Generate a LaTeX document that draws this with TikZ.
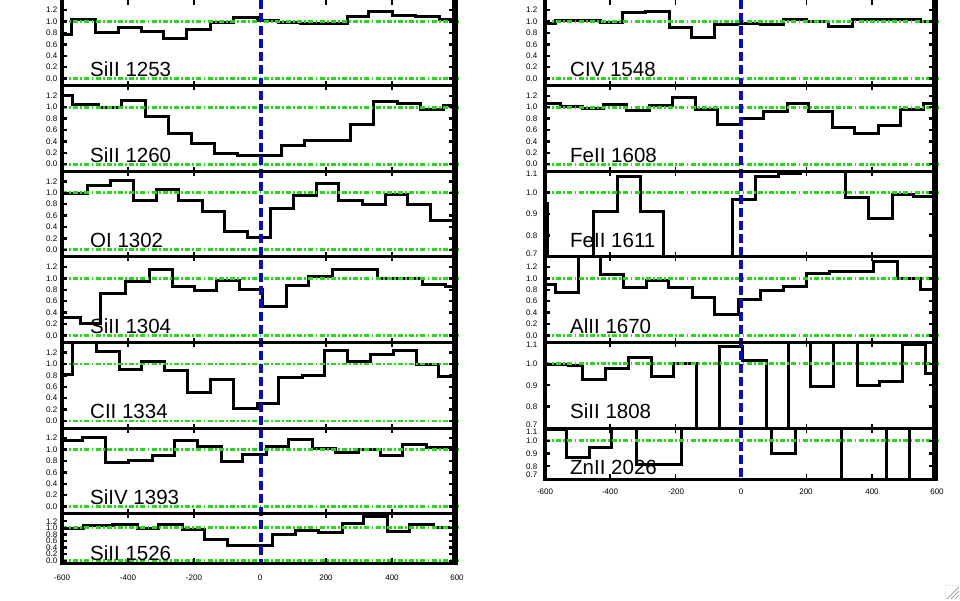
\documentclass[tikz,border=0pt]{standalone}
\usepackage{fontspec}
\setmainfont{Liberation Sans}
\definecolor{refgreen}{RGB}{40,215,30}
\definecolor{zeroblue}{RGB}{10,10,195}
\tikzset{
  spec/.style={line width=3pt, line join=miter, black},
  panel/.style 2 args={shift={(0,#1)}, yscale=-#2},
  frameL/.style={line width=3.6pt, black},
  frameR/.style={line width=6pt, black},
  sepline/.style={line width=3pt, black},
  refline/.style={line width=2.8pt, refgreen, dash pattern=on 5pt off 2.2pt on 1.8pt off 2.2pt},
  zeroline/.style={line width=3.3pt, zeroblue, dash pattern=on 8.5pt off 4.5pt},
  ytk/.style={line width=2.4pt, black},
  xtk/.style={line width=1.8pt, black},
  ylab/.style={font=\fontsize{8}{9}\selectfont, anchor=east, inner sep=0pt},
  xlab/.style={font=\fontsize{8}{9}\selectfont, inner sep=0pt},
  ion/.style={font=\fontsize{20.5}{24}\selectfont, anchor=base west, inner sep=0pt},
}
\begin{document}
\begin{tikzpicture}[x=1pt,y=-1pt]
\useasboundingbox (0,0) rectangle (960,600);
\fill[white] (0,0) rectangle (960,600);

% ================= LEFT COLUMN SPECTRA =================
\begin{scope}\clip (62,0) rectangle (457,85.6);
\draw[spec,panel={78.5}{57}] (62,0.77) -| (71.7,1.03) -| (95,0.81) -| (118,0.89) -| (141,0.82) -| (163,0.70) -| (186,0.86) -| (210,0.98) -| (233,1.07) -| (257,1.01) -| (278,0.98) -| (300,0.96) -| (347,1.08) -| (368,1.17) -| (392,1.11) -| (415,1.08) -| (439,1.03) -- (457,1.03);
\end{scope}
\begin{scope}\clip (62,85.6) rectangle (457,171.2);
\draw[spec,panel={164.1}{57}] (62,1.21) -| (72,1.04) -| (98,0.99) -| (121,1.12) -| (145,0.83) -| (168,0.54) -| (191,0.36) -| (214,0.18) -| (237,0.15) -| (281,0.32) -| (304,0.41) -| (327,0.42) -| (350,0.70) -| (373,1.09) -| (397,1.06) -| (420,0.96) -| (443,1.02) -- (457,1.02);
\end{scope}
\begin{scope}\clip (62,171.2) rectangle (457,256.8);
\draw[spec,panel={249.7}{57}] (62,0.98) -| (87,1.13) -| (110,1.22) -| (133,0.86) -| (156,1.06) -| (178,0.87) -| (202,0.67) -| (224,0.32) -| (247,0.21) -| (270,0.73) -| (293,0.95) -| (316,1.16) -| (338,0.87) -| (362,0.80) -| (385,0.96) -| (407,0.80) -| (430,0.52) -| (453,0.88) -- (457,0.88);
\end{scope}
\begin{scope}\clip (62,256.8) rectangle (457,342.4);
\draw[spec,panel={335.3}{57}] (62,0.31) -| (80,0.21) -| (100,0.73) -| (125,0.94) -| (149,1.16) -| (172,0.85) -| (194,0.78) -| (216,0.97) -| (239,0.81) -| (262,0.50) -| (286,0.88) -| (308,1.04) -| (332,1.15) -| (355,1.16) -| (377,1.00) -| (422,0.90) -| (445,0.85) -- (457,0.85);
\end{scope}
\begin{scope}\clip (62,342.4) rectangle (457,428);
\draw[spec,panel={420.9}{57}] (62,0.81) -| (72,1.6) -| (96,1.21) -| (119,0.90) -| (141,1.05) -| (164,0.88) -| (187,0.50) -| (210,0.72) -| (233,0.22) -| (257,0.31) -| (278,0.76) -| (302,0.79) -| (324,1.23) -| (347,1.05) -| (370,1.17) -| (393,1.24) -| (416,0.99) -| (438,0.78) -- (457,0.78);
\end{scope}
\begin{scope}\clip (62,428) rectangle (457,513.6);
\draw[spec,panel={506.5}{57}] (62,1.15) -| (82,1.21) -| (105,0.78) -| (128,0.80) -| (152,0.89) -| (174,1.15) -| (197,1.06) -| (221,0.79) -| (242,0.92) -| (266,1.05) -| (288,1.18) -| (312,1.02) -| (335,0.95) -| (358,1.00) -| (380,0.90) -| (402,1.08) -| (426,1.03) -- (457,1.03);
\end{scope}
\begin{scope}\clip (62,513.6) rectangle (457,563);
\draw[spec,panel={560.8}{33}] (62,0.99) -| (83,1.06) -| (112,1.09) -| (137,0.99) -| (158,1.09) -| (182,0.96) -| (204,0.64) -| (227,0.46) -| (272,0.79) -| (295,0.92) -| (318,0.87) -| (342,1.14) -| (363,1.34) -| (387,0.89) -| (409,1.09) -| (433,1.02) -- (457,1.02);
\end{scope}

% ================= RIGHT COLUMN SPECTRA =================
\begin{scope}\clip (545,0) rectangle (937,85.6);
\draw[spec,panel={78.5}{57}] (545,0.96) -| (555,1.01) -| (600,0.98) -| (622,1.15) -| (645,1.17) -| (669,0.90) -| (691,0.72) -| (714,0.95) -| (737,0.97) -| (760,0.94) -| (783,1.04) -| (806,1.00) -| (828,0.91) -| (852,1.04) -| (897,1.03) -| (920,1.00) -- (937,1.00);
\end{scope}
\begin{scope}\clip (545,85.6) rectangle (937,171.2);
\draw[spec,panel={164.1}{57}] (545,1.06) -| (560,1.01) -| (582,0.98) -| (603,1.05) -| (626,0.94) -| (649,1.02) -| (672,1.16) -| (695,0.95) -| (717,0.70) -| (740,0.80) -| (763,0.92) -| (787,1.06) -| (808,0.92) -| (832,0.65) -| (854,0.54) -| (878,0.67) -| (900,0.96) -| (923,1.06) -- (937,1.06);
\end{scope}
\begin{scope}\clip (545,171.2) rectangle (937,256.8);
\draw[spec,panel={406.6}{214}] (545,0.95) -| (547,0.5) -| (593,0.91) -| (617,1.077) -| (640,0.91) -| (663,0.5) -| (732,0.97) -| (755,1.074) -| (778,1.09) -| (800,1.3) -| (845,0.976) -| (868,0.88) -| (892,0.99) -| (913,0.98) -- (937,0.98);
\end{scope}
\begin{scope}\clip (545,256.8) rectangle (937,342.4);
\draw[spec,panel={335.3}{57}] (545,0.89) -| (555,0.75) -| (578,1.6) -| (600,1.07) -| (623,0.84) -| (646,0.96) -| (668,0.84) -| (692,0.66) -| (714,0.37) -| (738,0.62) -| (760,0.78) -| (783,0.85) -| (806,1.08) -| (829,1.12) -| (873,1.29) -| (897,0.99) -| (920,0.80) -- (937,0.80);
\end{scope}
\begin{scope}\clip (545,342.4) rectangle (937,428);
\draw[spec,panel={577.8}{214}] (545,0.998) -| (568,0.991) -| (582,0.929) -| (605,0.979) -| (628,1.03) -| (651,0.94) -| (673,1.002) -| (696,0.5) -| (719,1.08) -| (742,1.015) -| (766,0.5) -| (788,1.3) -| (810,0.893) -| (833,1.3) -| (857,0.90) -| (879,0.916) -| (902,1.088) -| (925,0.956) -- (937,0.956);
\end{scope}
\begin{scope}\clip (545,428) rectangle (937,479);
\draw[spec,panel={568.25}{127.5}] (545,1.09) -| (566.7,0.87) -| (589.3,0.946) -| (611.7,1.3) -| (636,0.81) -| (681.7,1.3) -| (771.7,0.90) -| (795,1.3) -| (841.7,0.5) -| (886.7,1.3) -| (909.3,0.5) -- (937,0.5);
\end{scope}

% ================= GREEN REFERENCE LINES =================
\foreach \yy in {78.5,164.1,249.7,335.3,420.9,506.5} {
  \draw[refline] (62,\yy) -- (459,\yy);
  \draw[refline] (62,\yy-57) -- (459,\yy-57);
}
\draw[refline] (62,560.8) -- (459,560.8);
\draw[refline] (62,527.8) -- (459,527.8);
\foreach \yy in {78.5,164.1,335.3} {
  \draw[refline] (545,\yy) -- (939,\yy);
  \draw[refline] (545,\yy-57) -- (939,\yy-57);
}
\draw[refline] (545,192.6) -- (939,192.6);
\draw[refline] (545,363.8) -- (939,363.8);
\draw[refline] (545,440.75) -- (939,440.75);

% ================= BLUE ZERO-VELOCITY LINES =================
\coordinate (lz0) at (261,0);
\coordinate (lz1) at (261,562);
\coordinate (rz0) at (741,0);
\coordinate (rz1) at (741,478);
\draw[zeroline] (lz0) -- (lz1);
\draw[zeroline] (rz0) -- (rz1);

% ================= FRAMES =================
\foreach \yy in {85.6,171.2,256.8,342.4,428,513.6} {
  \draw[sepline] (62,\yy) -- (457,\yy);
}
\draw[sepline] (60.5,563) -- (458,563);
\foreach \yy in {85.6,171.2,256.8,342.4,428} {
  \draw[sepline] (545,\yy) -- (937,\yy);
}
\draw[sepline] (543.5,479) -- (938,479);
\draw[frameL] (62,0) -- (62,564.5);
\draw[frameR] (455,0) -- (455,564.5);
\draw[frameL] (545,0) -- (545,480.5);
\draw[frameR] (935,0) -- (935,480.5);

% ================= X TICKS =================
\foreach \yy in {0,85.6,171.2,256.8,342.4,428,513.6} {
  \foreach \xx in {128.3,194.2,325.8,391.7} {
    \draw[xtk] (\xx,\yy-4.5) -- (\xx,\yy+4.5);
  }
}
\foreach \xx in {128.3,194.2,325.8,391.7} {
  \draw[xtk] (\xx,563) -- (\xx,558);
}
\foreach \yy in {0,85.6,171.2,256.8,342.4,428} {
  \foreach \xx in {610,675.5,806.5,872} {
    \draw[xtk] (\xx,\yy-4.5) -- (\xx,\yy+4.5);
  }
}
\foreach \xx in {610,675.5,806.5,872} {
  \draw[xtk] (\xx,479) -- (\xx,474);
}

% ================= Y TICKS AND LABELS =================
\foreach \yy in {78.5,164.1,249.7,335.3,420.9,506.5} {
  \foreach \tv in {0.0,0.2,0.4,0.6,0.8,1.0,1.2} {
    \draw[ytk] (62,{\yy-57*\tv}) -- ++(5,0);
    \draw[ytk] (455,{\yy-57*\tv}) -- ++(-6,0);
    \node[ylab] at (57.5,{\yy-57*\tv}) {\tv};
  }
}
\foreach \tv in {0.0,0.2,0.4,0.6,0.8,1.0,1.2} {
  \draw[ytk] (62,{560.8-33*\tv}) -- ++(5,0);
  \draw[ytk] (455,{560.8-33*\tv}) -- ++(-6,0);
  \node[ylab] at (57.5,{560.8-33*\tv}) {\tv};
}
\foreach \yy in {78.5,164.1,335.3} {
  \foreach \tv in {0.0,0.2,0.4,0.6,0.8,1.0,1.2} {
    \draw[ytk] (545,{\yy-57*\tv}) -- ++(5,0);
    \draw[ytk] (935,{\yy-57*\tv}) -- ++(-6,0);
    \node[ylab] at (537.5,{\yy-57*\tv}) {\tv};
  }
}
% FeII 1611 panel
\foreach \tv/\rr in {1.1/174,1.0/192.6,0.9/214,0.8/235.4,0.7/253.5} {
  \draw[ytk] (545,{406.6-214*\tv}) -- ++(5,0);
  \draw[ytk] (935,{406.6-214*\tv}) -- ++(-6,0);
  \node[ylab] at (537.5,\rr) {\tv};
}
% SiII 1808 panel
\foreach \tv/\rr in {1.1/344.5,1.0/363.5,0.9/385.4,0.8/406.8,0.7/424.5} {
  \draw[ytk] (545,{577.8-214*\tv}) -- ++(5,0);
  \draw[ytk] (935,{577.8-214*\tv}) -- ++(-6,0);
  \node[ylab] at (537.5,\rr) {\tv};
}
% ZnII 2026 panel
\foreach \tv/\rr in {1.1/431.5,1.0/440.5,0.9/453.3,0.8/466.3,0.7/475} {
  \draw[ytk] (545,{568.25-127.5*\tv}) -- ++(5,0);
  \draw[ytk] (935,{568.25-127.5*\tv}) -- ++(-6,0);
  \node[ylab] at (537.5,\rr) {\tv};
}

% ================= X LABELS =================
\foreach \xx/\lab [count=\k] in {62/-600,128/-400,194/-200,260/0,326/200,392/400,457/600} {
  \node[xlab] (lx\k) at (\xx,578) {\lab};
}
\foreach \xx/\lab [count=\k] in {545/-600,610/-400,676/-200,741/0,806/200,872/400,937/600} {
  \node[xlab] (rx\k) at (\xx,492) {\lab};
}

% ================= ION LABELS =================
\node[ion] (l1) at (90,76.5) {SiII 1253};
\node[ion] (l2) at (90,162.1) {SiII 1260};
\node[ion] (l3) at (90,247.7) {OI 1302};
\node[ion] (l4) at (90,333.3) {SiII 1304};
\node[ion] (l5) at (90,418.9) {CII 1334};
\node[ion] (l6) at (90,504.5) {SiIV 1393};
\node[ion] (l7) at (90,560) {SiII 1526};
\node[ion] (r1) at (570,76.5) {CIV 1548};
\node[ion] (r2) at (570,162.1) {FeII 1608};
\node[ion] (r3) at (570,247.7) {FeII 1611};
\node[ion] (r4) at (570,333.3) {AlII 1670};
\node[ion] (r5) at (570,418.9) {SiII 1808};
\node[ion] (r6) at (570,474) {ZnII 2026};

% ================= RESIZE GRIP =================
\draw[gray!35, dotted, line width=0.6pt] (945,599) -- (945,585) -- (959,585);
\draw[gray!70, line width=0.9pt] (947,599) -- (959,587);
\draw[gray!70, line width=0.9pt] (951,599) -- (959,591);
\draw[gray!70, line width=0.9pt] (955,599) -- (959,595);
\end{tikzpicture}
\end{document}
